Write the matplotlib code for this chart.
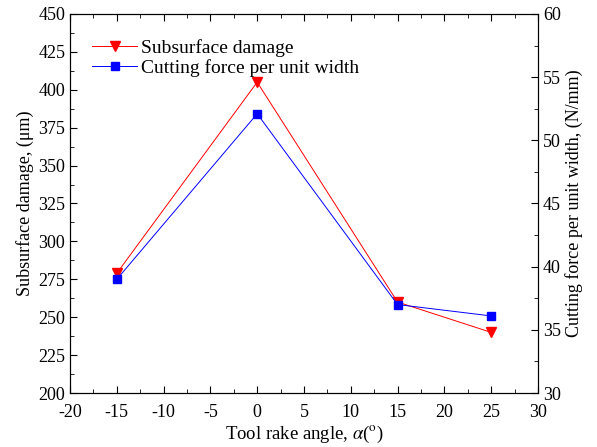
import numpy as np
import matplotlib
matplotlib.use('Agg')
import matplotlib.pyplot as plt
from matplotlib.ticker import MultipleLocator

plt.rcParams['font.family'] = ['Liberation Serif', 'DejaVu Serif']
plt.rcParams['mathtext.fontset'] = 'stix'
plt.rcParams['axes.unicode_minus'] = False

# 数据
rake_angle = [-15, 0, 15, 25]
damage = [279, 405, 260, 240]
force = [39.0, 52.1, 37.0, 36.1]

fig = plt.figure(figsize=(5.97, 4.47), dpi=100)
ax = fig.add_axes([0.1173, 0.1208, 0.7837, 0.848])
ax2 = ax.twinx()

l1, = ax.plot(rake_angle, damage, color='red', lw=0.7, marker='v', ms=7, label='Subsurface damage')
l2, = ax2.plot(rake_angle, force, color='blue', lw=0.7, marker='s', ms=5.5, label='Cutting force per unit width')

ax.set_xlim(-20, 30)
ax.set_ylim(200, 450)
ax2.set_ylim(30, 60)

ax.xaxis.set_major_locator(MultipleLocator(5))
ax.xaxis.set_minor_locator(MultipleLocator(2.5))
ax.yaxis.set_major_locator(MultipleLocator(25))
ax.yaxis.set_minor_locator(MultipleLocator(12.5))
ax2.yaxis.set_major_locator(MultipleLocator(5))
ax2.yaxis.set_minor_locator(MultipleLocator(2.5))

ax.tick_params(which='both', direction='in', top=True, labelsize=13)
ax.tick_params(which='major', length=5)
ax.tick_params(which='minor', length=3)
ax.tick_params(axis='x', pad=8)
ax2.tick_params(which='both', direction='in', labelsize=13)
ax2.tick_params(which='major', length=5)
ax2.tick_params(which='minor', length=3)

ax.set_xlabel(r'Tool rake angle, $\alpha$($^{\rm o}$)', fontsize=13.5, labelpad=2)
ax.set_ylabel('Subsurface damage, (μm)', fontsize=13, labelpad=3)
ax2.set_ylabel('Cutting force per unit width, (N/mm)', fontsize=13, labelpad=3)

ax.legend(handles=[l1, l2], loc='upper left', frameon=False, fontsize=14,
          handlelength=2.3, handletextpad=0.2, labelspacing=0.1,
          bbox_to_anchor=(0.01, 0.98))

plt.savefig('out.png', dpi=100)
